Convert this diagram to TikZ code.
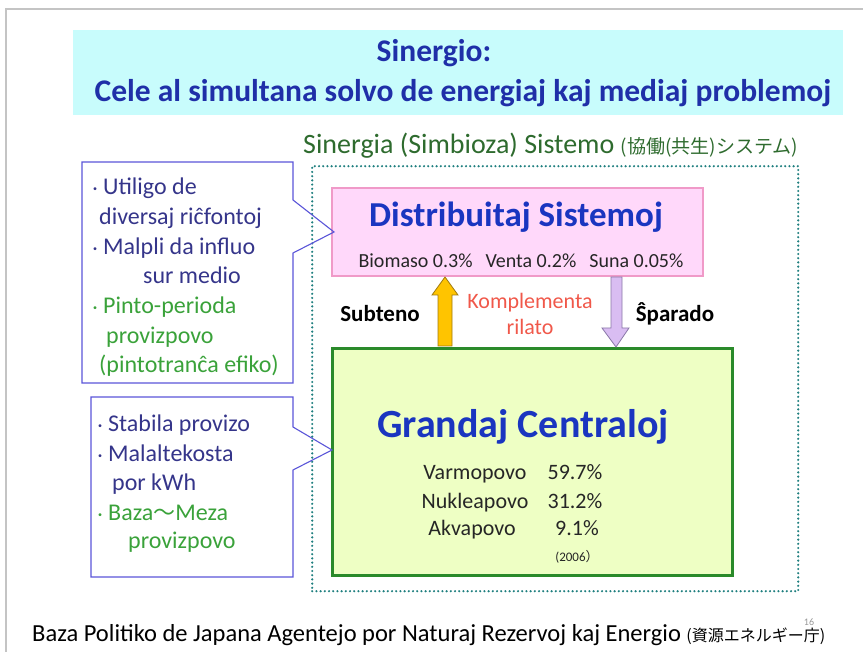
\documentclass[tikz,border=0pt]{standalone}
\usepackage{fontspec}
\setmainfont{Carlito}
\newfontfamily\jp{Noto Sans CJK JP}
\usetikzlibrary{calc}
\definecolor{titlebg}{HTML}{C8FCFC}
\definecolor{titleblue}{HTML}{1F2FA8}
\definecolor{hdrblue}{HTML}{1A35C0}
\definecolor{sysgreen}{HTML}{2E6B2E}
\definecolor{teal}{HTML}{1F7F7F}
\definecolor{pinkfill}{HTML}{FFD8FA}
\definecolor{pinkline}{HTML}{F09AC8}
\definecolor{greenfill}{HTML}{EEFFC4}
\definecolor{greenline}{HTML}{2A8A2A}
\definecolor{calloutline}{HTML}{5A55D8}
\definecolor{darkblue}{HTML}{35358A}
\definecolor{brightgreen}{HTML}{3AA23A}
\definecolor{komred}{HTML}{F0584A}
\definecolor{arrowyellow}{HTML}{FFC400}
\definecolor{arrowyellowline}{HTML}{A07A10}
\definecolor{lav}{HTML}{D9BDF2}
\definecolor{lavline}{HTML}{8A78A8}
\definecolor{framegray}{HTML}{C4C4C4}
\newcommand{\blt}{{\jp\fontsize{14}{14}\selectfont ・}}
\tikzset{
  boxtxt/.style={inner sep=0pt, anchor=base west, font=\fontsize{24}{28}\selectfont},
  calloutbox/.style={draw=calloutline, line width=1.1pt, line join=miter},
  tbl/.style={font=\fontsize{22}{26}\selectfont, text=black!85, anchor=base},
}
\begin{document}
\begin{tikzpicture}[x=1pt,y=-1pt]
\useasboundingbox (0,0) rectangle (863,652);
% frame
\draw[framegray, line width=2pt] (6,652) -- (6,9) -- (863,9);
% title
\node[fill=titlebg, minimum width=770pt, minimum height=85pt, inner sep=0pt, anchor=north west] (title) at (73,30) {};
\node[text=titleblue, font=\bfseries\fontsize{31.5}{36}\selectfont] (title1) at (434,53) {Sinergio:};
\node[text=titleblue, font=\bfseries\fontsize{31.5}{36}\selectfont] (title2) at (463,93) {Cele al simultana solvo de energiaj kaj mediaj problemoj};
% system label
\node[text=sysgreen, anchor=base west, inner sep=0pt, font=\fontsize{28}{30}\selectfont] (syslabel) at (303,154) {Sinergia (Simbioza) Sistemo {\jp\fontsize{19}{20}\selectfont (協働(共生)システム)}};
% dotted box
\node[draw=teal, line width=2.4pt, dash pattern=on 0pt off 4.2pt, line cap=round, minimum width=486pt, minimum height=425pt, anchor=north west, inner sep=0pt] (dotbox) at (311,165) {};
% pink box
\node[draw=pinkline, fill=pinkfill, line width=1.6pt, minimum width=371pt, minimum height=88pt, anchor=north west, inner sep=0pt] (pink) at (331,187) {};
\node[text=hdrblue, font=\bfseries\fontsize{35}{38}\selectfont] (disttxt) at (516,217) {Distribuitaj Sistemoj};
\node[font=\fontsize{20}{24}\selectfont, text=black!85, anchor=base] (disttbl) at (521,268) {Biomaso 0.3\%\hspace{13pt}Venta 0.2\%\hspace{13pt}Suna 0.05\%};
% green box
\node[draw=greenline, fill=greenfill, line width=2.6pt, minimum width=400pt, minimum height=227pt, anchor=north west, inner sep=0pt] (green) at (331,347) {};
\node[text=hdrblue, font=\bfseries\fontsize{40}{44}\selectfont] (grandtxt) at (523,427) {Grandaj Centraloj};
\node[tbl] (r1a) at (475,479) {Varmopovo};
\node[tbl] (r1b) at (575,479) {59.7\%};
\node[tbl] (r2a) at (475,508) {Nukleapovo};
\node[tbl] (r2b) at (575,508) {31.2\%};
\node[tbl] (r3a) at (472,536) {Akvapovo};
\node[tbl] (r3b) at (577,536) {9.1\%};
\node[font=\fontsize{13}{15}\selectfont, text=black!85, anchor=base] (r4) at (577,561) {(2006{\jp\fontsize{13}{15}\selectfont ）}};
% arrows
\draw[fill=arrowyellow, draw=arrowyellowline, line width=0.8pt, line join=miter]
  (445,277) -- (458,295) -- (452,295) -- (452,346) -- (438,346) -- (438,295) -- (432,295) -- cycle;
\draw[fill=lav, draw=lavline, line width=0.8pt, line join=miter]
  (611,277) -- (622,277) -- (622,328) -- (629,328) -- (616,347) -- (602,328) -- (611,328) -- cycle;
\node[font=\bfseries\fontsize{23}{26}\selectfont, anchor=base] (subteno) at (380,322) {Subteno};
\node[font=\bfseries\fontsize{23}{26}\selectfont, anchor=base] (sparado) at (675,322) {Ŝparado};
\node[text=komred, font=\fontsize{22}{26}\selectfont, anchor=base] (kompl1) at (530,309) {Komplementa};
\node[text=komred, font=\fontsize{22}{26}\selectfont, anchor=base] (kompl2) at (530,335) {rilato};
% callout 1
\draw[calloutbox] (82,162) -- (293,162) -- (293,200) -- (334,232) -- (293,253) -- (293,383) -- (82,383) -- cycle;
\node[boxtxt, text=darkblue] (c1a) at (88,195) {\blt\hspace{1pt}Utiligo de};
\node[boxtxt, text=darkblue] (c1b) at (99,225) {diversaj riĉfontoj};
\node[boxtxt, text=darkblue] (c1c) at (88,255) {\blt\hspace{1pt}Malpli da influo};
\node[boxtxt, text=darkblue] (c1d) at (143,284) {sur medio};
\node[boxtxt, text=brightgreen] (c1e) at (88,314) {\blt\hspace{1pt}Pinto-perioda};
\node[boxtxt, text=brightgreen] (c1f) at (106,344) {provizpovo};
\node[boxtxt, text=brightgreen] (c1g) at (99,373) {(pintotranĉa efiko)};
% callout 2
\draw[calloutbox] (91,397) -- (293,397) -- (293,427) -- (332,450) -- (293,470) -- (293,577) -- (91,577) -- cycle;
\node[boxtxt, text=darkblue] (c2a) at (93,432) {\blt\hspace{1pt}Stabila provizo};
\node[boxtxt, text=darkblue] (c2b) at (93,461) {\blt\hspace{1pt}Malaltekosta};
\node[boxtxt, text=darkblue] (c2c) at (112,490) {por kWh};
\node[boxtxt, text=brightgreen] (c2d) at (93,520) {\blt\hspace{1pt}Baza{\jp\fontsize{22}{24}\selectfont 〜}Meza};
\node[boxtxt, text=brightgreen] (c2e) at (128,548) {provizpovo};
% footer
\node[anchor=base west, inner sep=0pt, font=\fontsize{24.5}{28}\selectfont] (footer) at (32,641) {Baza Politiko de Japana Agentejo por Naturaj Rezervoj kaj Energio {\jp\fontsize{16}{18}\selectfont (資源エネルギー庁)}};
\node[text=black!40, font=\fontsize{10}{11}\selectfont] (pagenum) at (809,622) {16};
\end{tikzpicture}
\end{document}
